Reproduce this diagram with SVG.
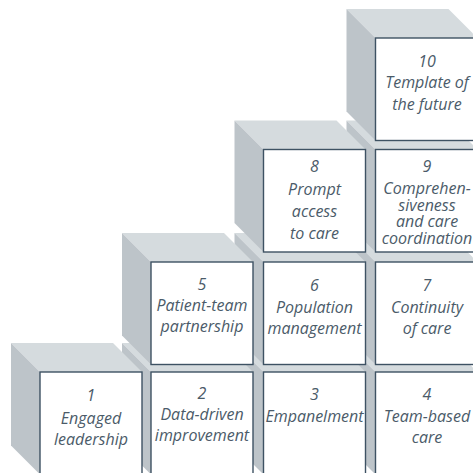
<svg xmlns="http://www.w3.org/2000/svg" width="473" height="473" viewBox="0 0 473 473">
<style>
.front{fill:#ffffff;stroke:#3e5263;stroke-width:1.4}
.top{fill:#d5dbde}
.left{fill:#bdc4c9}
text{font-family:"Open Sans","Noto Sans",sans-serif;font-style:italic;font-size:16px;fill:#4b5b69;text-anchor:middle}
</style>
<rect width="473" height="473" fill="#ffffff"/>
<!-- column x: 40,151,263.5,375.5 ; row y: 372,262,149.5,38 ; size 102 ; depth 29 -->
<g id="cube4">
<polygon class="top" points="375.5,372 477.5,372 448.5,343 346.5,343"/>
<polygon class="left" points="375.5,372 346.5,343 346.5,445.5 375.5,474.5"/>
<rect class="front" x="375.5" y="372" width="102" height="102.5"/>
<text x="427" y="400">4</text><text x="427" y="421.5">Team-based</text><text x="427" y="443">care</text>
</g>
<g id="cube7">
<polygon class="top" points="375.5,262 477.5,262 448.5,233 346.5,233"/>
<polygon class="left" points="375.5,262 346.5,233 346.5,335.5 375.5,364.5"/>
<rect class="front" x="375.5" y="262" width="102" height="102.5"/>
<text x="427" y="291">7</text><text x="427" y="313">Continuity</text><text x="427" y="334">of care</text>
</g>
<g id="cube9">
<polygon class="top" points="375.5,149.5 477.5,149.5 448.5,120.5 346.5,120.5"/>
<polygon class="left" points="375.5,149.5 346.5,120.5 346.5,223 375.5,252"/>
<rect class="front" x="375.5" y="149.5" width="102" height="102.5"/>
<text x="427" y="171.5">9</text><text x="427" y="194">Comprehen-</text><text x="427" y="210.5">siveness</text><text x="427" y="227">and care</text><text x="427" y="244">coordination</text>
</g>
<g id="cube10">
<polygon class="top" points="375.5,38 477.5,38 448.5,9 346.5,9"/>
<polygon class="left" points="375.5,38 346.5,9 346.5,111.5 375.5,140.5"/>
<rect class="front" x="375.5" y="38" width="102" height="102.5"/>
<text x="427" y="66.5">10</text><text x="427" y="88">Template of</text><text x="427" y="110">the future</text>
</g>
<g id="cube3">
<polygon class="top" points="263.5,372 365.5,372 336.5,343 234.5,343"/>
<polygon class="left" points="263.5,372 234.5,343 234.5,445.5 263.5,474.5"/>
<rect class="front" x="263.5" y="372" width="102" height="102.5"/>
<text x="314.5" y="400">3</text><text x="314.5" y="421.5">Empanelment</text>
</g>
<g id="cube6">
<polygon class="top" points="263.5,262 365.5,262 336.5,233 234.5,233"/>
<polygon class="left" points="263.5,262 234.5,233 234.5,335.5 263.5,364.5"/>
<rect class="front" x="263.5" y="262" width="102" height="102.5"/>
<text x="314.5" y="291">6</text><text x="314.5" y="313">Population</text><text x="314.5" y="334">management</text>
</g>
<g id="cube8">
<polygon class="top" points="263.5,149.5 365.5,149.5 336.5,120.5 234.5,120.5"/>
<polygon class="left" points="263.5,149.5 234.5,120.5 234.5,223 263.5,252"/>
<rect class="front" x="263.5" y="149.5" width="102" height="102.5"/>
<text x="314.5" y="171.5">8</text><text x="314.5" y="195">Prompt</text><text x="314.5" y="216.5">access</text><text x="314.5" y="239">to care</text>
</g>
<g id="cube2">
<polygon class="top" points="151,372 253,372 224,343 122,343"/>
<polygon class="left" points="151,372 122,343 122,445.5 151,474.5"/>
<rect class="front" x="151" y="372" width="102" height="102.5"/>
<text x="202" y="399">2</text><text x="202" y="420">Data-driven</text><text x="202" y="441">improvement</text>
</g>
<g id="cube5">
<polygon class="top" points="151,262 253,262 224,233 122,233"/>
<polygon class="left" points="151,262 122,233 122,335.5 151,364.5"/>
<rect class="front" x="151" y="262" width="102" height="102.5"/>
<text x="202" y="290">5</text><text x="202" y="311">Patient-team</text><text x="202" y="332">partnership</text>
</g>
<g id="cube1">
<polygon class="top" points="40,372 142,372 113,343 11,343"/>
<polygon class="left" points="40,372 11,343 11,445.5 40,474.5"/>
<rect class="front" x="40" y="372" width="102" height="102.5"/>
<text x="91" y="401">1</text><text x="91" y="424">Engaged</text><text x="91" y="445">leadership</text>
</g>
<g id="connectors"/>
</svg>
